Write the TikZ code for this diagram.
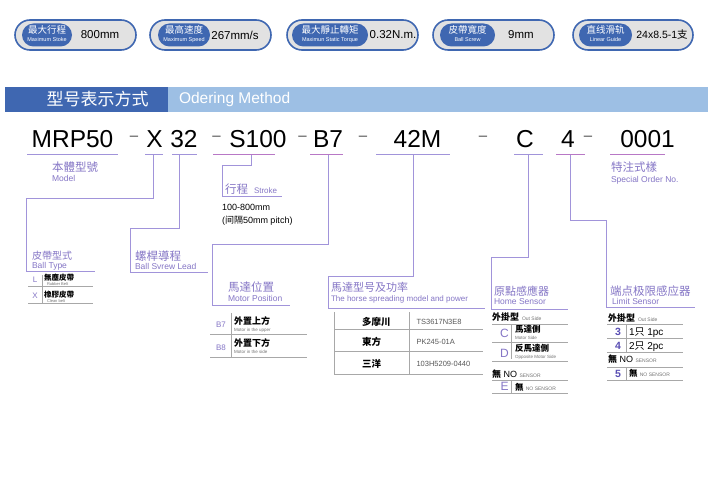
\documentclass[tikz,border=0pt]{standalone}
\usepackage{fontspec}
\setmainfont{Liberation Sans}
\newfontfamily\cjk{Noto Sans CJK SC}
\newcommand\fsz[1]{\fontsize{#1}{#1}\selectfont}
\definecolor{pur}{HTML}{8576C6}
\definecolor{lnc}{HTML}{A194DA}
\definecolor{pnk}{HTML}{B878C6}
\definecolor{bdk}{HTML}{3F67B1}
\definecolor{blt}{HTML}{9DBFE4}
\definecolor{bgr}{HTML}{E2E2E2}
\definecolor{tgr}{HTML}{A8A8A8}
\definecolor{num}{HTML}{5A4FB4}
\begin{document}
\begin{tikzpicture}[x=1pt,y=-1pt,
  conn/.style={draw=lnc,line width=0.8pt},
  ul/.style={draw=lnc,line width=1pt},
  ulp/.style={draw=pnk,line width=1pt},
  tl/.style={draw=tgr,line width=0.6pt},
  txt/.style={inner sep=0pt,outer sep=0pt},
  bw/.style={txt,anchor=base west},
  bc/.style={txt,anchor=base},
  code/.style={bc,font=\fsz{24.5}},
  dsh/.style={txt,anchor=center,font=\fsz{15},text=black!70},
  cjl/.style={bw,text=pur,font=\cjk\fsz{11.5}},
  enl/.style={bw,text=pur,font=\fsz{8.5}},
  pill/.style={draw=bdk,line width=1.6pt,fill=bgr,rounded corners=15pt,minimum height=30pt,inner sep=0pt},
  ipill/.style={fill=bdk,rounded corners=11.5pt,minimum height=23pt,inner sep=0pt},
  pcj/.style={bc,text=white,font=\cjk\fsz{9.5}},
  pen/.style={bc,text=white,font=\fsz{5.5}},
  val/.style={txt,anchor=center,font=\fsz{11.5}},
  tcj/.style={bw,font=\cjk\bfseries\fsz{9}},
  ten/.style={bw,text=black!55,font=\fsz{5}},
  tmd/.style={bw,text=black!65,font=\fsz{7.5}},
  big/.style={bc,text=pur,font=\fsz{12}},
  nb/.style={bc,text=num,font=\bfseries\fsz{10.5}},
  ]
\useasboundingbox (0,0) rectangle (708,478);
\fill[white] (0,0) rectangle (708,478);

% ---------- badges ----------
\node[pill,minimum width=121pt] (b1) at (75.5,35) {};
\node[ipill,minimum width=50pt] (i1) at (47,35) {};
\node[pcj] (i1a) at (47,34) {最大行程};
\node[pen] (i1b) at (47,42) {Maximum Stoke};
\node[val] (v1) at (100,35) {800mm};

\node[pill,minimum width=121pt] (b2) at (210.5,35) {};
\node[ipill,minimum width=52pt] (i2) at (184,35) {};
\node[pcj] (i2a) at (184,34) {最高速度};
\node[pen] (i2b) at (184,42) {Maximum Speed};
\node[val] (v2) at (235,35) {267mm/s};

\node[pill,minimum width=131pt] (b3) at (352.5,35) {};
\node[ipill,minimum width=76pt] (i3) at (330,35) {};
\node[pcj] (i3a) at (330,34) {最大靜止轉矩};
\node[pen] (i3b) at (330,42) {Maximun Static Torque};
\node[val] (v3) at (393,35) {0.32N.m.};

\node[pill,minimum width=121pt] (b4) at (493.5,35) {};
\node[ipill,minimum width=55pt] (i4) at (467.5,35) {};
\node[pcj] (i4a) at (467.5,34) {皮帶寬度};
\node[pen] (i4b) at (467.5,42) {Ball Screw};
\node[val] (v4) at (521,35) {9mm};

\node[pill,minimum width=120pt] (b5) at (633,35) {};
\node[ipill,minimum width=53pt] (i5) at (605.5,35) {};
\node[pcj] (i5a) at (605.5,34) {直线滑轨};
\node[pen] (i5b) at (605.5,42) {Linear Guide};
\node[val,font=\fsz{10.5}] (v5) at (662,35) {24x8.5-1{\cjk 支}};

% ---------- header ----------
\fill[bdk] (5,87) rectangle (168,112);
\fill[blt] (168,87) rectangle (708,112);
\node[txt,anchor=center,text=white,font=\cjk\fsz{17}] (h1) at (97.5,99.5) {型号表示方式};
\node[txt,anchor=west,text=white,font=\fsz{15.5}] (h2) at (179,99.5) {Odering Method};

% ---------- code ----------
\node[code] (cM) at (72.5,148) {MRP50};
\node[code] (cX) at (154.5,148) {X};
\node[code] (c32) at (184,148) {32};
\node[code] (cS) at (258,148) {S100};
\node[code] (cB) at (328,148) {B7};
\node[code] (c42) at (417.5,148) {42M};
\node[code] (cC) at (525,148) {C};
\node[code] (c4) at (568,148) {4};
\node[code] (c0) at (647.5,148) {0001};
\node[dsh] (d1) at (134,138) {–};
\node[dsh] (d2) at (216.5,138) {–};
\node[dsh] (d3) at (302.5,138) {–};
\node[dsh] (d4) at (363,138) {–};
\node[dsh] (d5) at (483,138) {–};
\node[dsh] (d6) at (588,138) {–};

% underlines
\draw[ul] (27,155) -- (118,155);
\draw[ul] (145,155) -- (163,155);
\draw[ul] (172,155) -- (197,155);
\draw[ulp] (213,155) -- (275,155);
\draw[ulp] (310,155) -- (343,155);
\draw[ul] (376,155) -- (450,155);
\draw[ul] (514,155) -- (543,155);
\draw[ulp] (556,155) -- (585,155);
\draw[ulp] (610,155) -- (665,155);

% ---------- connectors ----------
\coordinate (uX) at (153,155);  \coordinate (aX) at (26,198);   \coordinate (eX) at (95,271);
\coordinate (u32) at (179,155); \coordinate (a32) at (130,228); \coordinate (e32) at (208,272);
\coordinate (uS) at (251,155);  \coordinate (aS) at (222,165);  \coordinate (eS) at (282,196);
\coordinate (uB) at (328,155);  \coordinate (aB) at (212,244);  \coordinate (eB) at (290,305);
\coordinate (u42) at (413,155); \coordinate (a42) at (328,276); \coordinate (e42) at (485,308);
\coordinate (uC) at (528,155);  \coordinate (aC) at (491,257);  \coordinate (eC) at (568,309);
\coordinate (u4) at (570,155);  \coordinate (a4) at (606,220);  \coordinate (e4) at (695,307);
\draw[conn] (uX) |- (aX) |- (eX);
\draw[conn] (u32) |- (a32) |- (e32);
\draw[conn] (uS) |- (aS) |- (eS);
\draw[conn] (uB) |- (aB) |- (eB);
\draw[conn] (u42) |- (a42) |- (e42);
\draw[conn] (uC) |- (aC) |- (eC);
\draw[conn] (u4) |- (a4) |- (e4);

% ---------- labels ----------
\node[cjl] (lM1) at (52,172) {本體型號};
\node[enl] (lM2) at (52,182) {Model};
\node[cjl] (lO1) at (611,172) {特注式樣};
\node[enl] (lO2) at (611,183) {Special Order No.};

\node[cjl,font=\cjk\fsz{10}] (lT1) at (32,259.5) {皮帶型式};
\node[enl] (lT2) at (32,268.5) {Ball Type};
\node[cjl] (lL1) at (135,260) {螺桿導程};
\node[enl] (lL2) at (135,269) {Ball Svrew Lead};
\node[cjl] (lS1) at (225,193.5) {行程};
\node[enl,font=\fsz{8}] (lS2) at (254,193.5) {Stroke};
\node[bw,font=\fsz{9}] (lS3) at (222,210) {100-800mm};
\node[bw,font=\fsz{9}] (lS4) at (222,223) {({\cjk 间隔}50mm pitch)};
\node[cjl] (lP1) at (228,291) {馬達位置};
\node[enl] (lP2) at (228,301.5) {Motor Position};
\node[cjl,font=\cjk\fsz{11}] (lR1) at (331,291) {馬達型号及功率};
\node[enl,font=\fsz{8}] (lR2) at (331,301.5) {The horse spreading model and power};
\node[cjl,font=\cjk\fsz{11}] (lH1) at (494,295) {原點感應器};
\node[enl] (lH2) at (494,304) {Home Sensor};
\node[cjl,font=\cjk\fsz{11.5}] (lN1) at (610,295) {端点极限感应器};
\node[enl] (lN2) at (612,304) {Limit Sensor};

% ---------- ball type table ----------
\draw[tl] (42,275) -- (42,303);
\draw[tl] (28,286) -- (93,286);
\draw[tl] (28,303) -- (93,303);
\node[bc,text=pur,font=\fsz{8}] (tL) at (35,282) {L};
\node[tcj,font=\cjk\bfseries\fsz{7.5}] (tL1) at (44,280.5) {無塵皮帶};
\node[ten,font=\fsz{4}] (tL2) at (47,285) {Rubber Belt};
\node[bc,text=pur,font=\fsz{8}] (tX) at (35,298) {X};
\node[tcj,font=\cjk\bfseries\fsz{7.5}] (tX1) at (44,297) {橡膠皮帶};
\node[ten,font=\fsz{4}] (tX2) at (47,302) {Clean belt};

% ---------- motor position table ----------
\draw[tl] (231,313) -- (231,357);
\draw[tl] (210,334) -- (307,334);
\draw[tl] (210,357) -- (307,357);
\node[bw,text=pur,font=\fsz{8}] (tB7) at (216,327) {B7};
\node[tcj] (tB71) at (234,324.5) {外置上方};
\node[ten,font=\fsz{4.5}] (tB72) at (234,331) {Motor in the upper};
\node[bw,text=pur,font=\fsz{8}] (tB8) at (216,350) {B8};
\node[tcj] (tB81) at (234,346.5) {外置下方};
\node[ten,font=\fsz{4.5}] (tB82) at (234,353) {Motor in the side};

% ---------- motor model table ----------
\draw[tl] (334,312) -- (334,375);
\draw[tl] (409,312) -- (409,375);
\draw[tl] (334,329.5) -- (483,329.5);
\draw[tl] (334,351) -- (483,351);
\draw[tl] (334,374) -- (483,374);
\node[tcj,font=\cjk\bfseries\fsz{9.5}] (m1) at (362,325.5) {多摩川};
\node[tmd] (m1b) at (416.5,324.5) {TS3617N3E8};
\node[tcj,font=\cjk\bfseries\fsz{9.5}] (m2) at (362,345.5) {東方};
\node[tmd] (m2b) at (416.5,344.5) {PK245-01A};
\node[tcj,font=\cjk\bfseries\fsz{9.5}] (m3) at (362,367.5) {三洋};
\node[tmd] (m3b) at (416.5,366.5) {103H5209-0440};

% ---------- home sensor table ----------
\draw[tl] (492,324) -- (568,324);
\draw[tl] (492,342) -- (568,342);
\draw[tl] (492,361.5) -- (568,361.5);
\draw[tl] (492,380) -- (568,380);
\draw[tl] (492,393.5) -- (568,393.5);
\draw[tl] (511,324) -- (511,359);
\draw[tl] (511,380) -- (511,393.5);
\node[tcj] (hs0) at (492,320.5) {外掛型};
\node[ten] (hs0b) at (522,320) {Out Side};
\node[big] (hC) at (504.5,337.5) {C};
\node[tcj,font=\cjk\bfseries\fsz{8.5}] (hC1) at (515,332.5) {馬達側};
\node[ten,font=\fsz{4.5}] (hC2) at (515,339.8) {Motor Side};
\node[big] (hD) at (504.5,357) {D};
\node[tcj,font=\cjk\bfseries\fsz{8.5}] (hD1) at (515,351.5) {反馬達側};
\node[ten,font=\fsz{4.5}] (hD2) at (515,358.8) {Opposite Motor Side};
\node[bw,font=\fsz{9}] (hN) at (492,377) {{\cjk\bfseries 無} NO {\color{black!55}\fsz{5}SENSOR}};
\node[big] (hE) at (504.5,390.5) {E};
\node[bw,font=\fsz{8.5}] (hE1) at (515,390) {{\cjk\bfseries 無} {\color{black!55}\fsz{5}NO SENSOR}};

% ---------- limit sensor table ----------
\draw[tl] (607,324.5) -- (683,324.5);
\draw[tl] (607,338.5) -- (683,338.5);
\draw[tl] (607,352) -- (683,352);
\draw[tl] (607,367) -- (683,367);
\draw[tl] (607,380.5) -- (683,380.5);
\draw[tl] (626,324.5) -- (626,352);
\draw[tl] (626,367) -- (626,380.5);
\node[tcj] (ls0) at (608,321.5) {外掛型};
\node[ten] (ls0b) at (638,321) {Out Side};
\node[nb] (l3) at (618,335.5) {3};
\node[bw,font=\fsz{10}] (l31) at (629,335.5) {1{\cjk 只} 1pc};
\node[nb] (l4) at (618,349) {4};
\node[bw,font=\fsz{10}] (l41) at (629,349) {2{\cjk 只} 2pc};
\node[bw,font=\fsz{9}] (lN) at (608,362.5) {{\cjk\bfseries 無} NO {\color{black!55}\fsz{5}SENSOR}};
\node[nb] (l5) at (618,377) {5};
\node[bw,font=\fsz{8.5}] (l51) at (629,376.5) {{\cjk\bfseries 無} {\color{black!55}\fsz{5}NO SENSOR}};
\end{tikzpicture}
\end{document}
